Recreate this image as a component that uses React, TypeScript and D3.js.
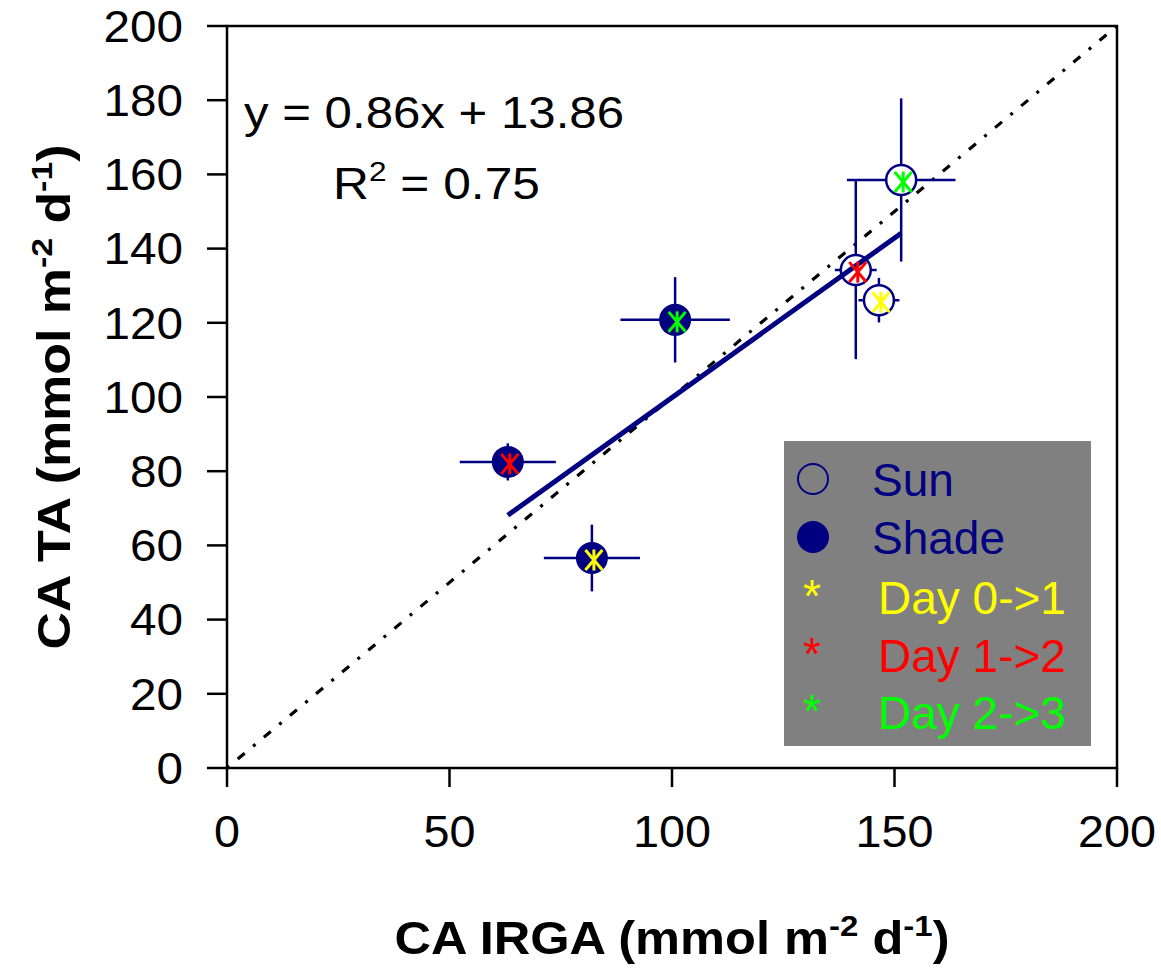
import React from "react";
import * as d3 from "d3";

// ---- data ----
const dayLabels = ["Day 0->1", "Day 1->2", "Day 2->3"];
const dayColors = ["#FFFF00", "#FF0000", "#00FF00"];

const sunX = [146.5, 141.3, 151.5];
const sunY = [126.1, 134.2, 158.5];
const sunXErr = [4.6, 4.7, 12.2];
const sunYErr = [6, 24, 22];

const shadeX = [82.0, 63.1, 100.7];
const shadeY = [56.6, 82.5, 120.8];
const shadeXErr = [10.8, 10.8, 12.3];
const shadeYErr = [9, 5, 11.5];

const fitSlope = 0.86;
const fitIntercept = 13.86;
const fitR2 = 0.75;

const xTicks = [0, 50, 100, 150, 200];
const yTicks = [0, 20, 40, 60, 80, 100, 120, 140, 160, 180, 200];

const NAVY = "#000080";
const FONT = "Arial, 'Liberation Sans', sans-serif";

export default function App() {
  const W = 1161, H = 969;
  const x = d3.scaleLinear().domain([0, 200]).range([227, 1117]);
  const y = d3.scaleLinear().domain([0, 200]).range([768, 26]);

  const points = [
    ...sunX.map((v, i) => ({ x: v, y: sunY[i], xe: sunXErr[i], ye: sunYErr[i], filled: false, day: i })),
    ...shadeX.map((v, i) => ({ x: v, y: shadeY[i], xe: shadeXErr[i], ye: shadeYErr[i], filled: true, day: i })),
  ];
  const allX = [...sunX, ...shadeX];
  const fx0 = d3.min(allX)!, fx1 = d3.max(allX)!;
  const line = d3.line<[number, number]>().x(d => x(d[0])).y(d => y(d[1]));
  const fitPath = line([[fx0, fitSlope * fx0 + fitIntercept], [fx1, fitSlope * fx1 + fitIntercept]]);
  const idPath = line([[0, 0], [200, 200]]);

  const asterisk = (cx: number, cy: number, color: string, key: string) => {
    const r = 10.5;
    const a = r * 0.95;
    return (
      <g key={key} stroke={color} strokeWidth={3} transform={`translate(${cx + 2},${cy + 2})`}>
        <line x1={0} y1={-r} x2={0} y2={r} />
        <line x1={-a * 0.85} y1={-a} x2={a * 0.85} y2={a} />
        <line x1={a * 0.85} y1={-a} x2={-a * 0.85} y2={a} />
      </g>
    );
  };

  const legendRows = [479, 537, 597, 655, 712];

  return (
    <svg width={W} height={H} style={{ position: "absolute", left: 0, top: 0, display: "block", background: "#fff" }} fontFamily={FONT}>
      {/* 1:1 line */}
      <path d={idPath!} stroke="#000" strokeWidth={3.2} fill="none" strokeDasharray="3,11,9,11" />

      {/* legend box */}
      <rect x={784} y={441} width={307} height={305} fill="#808080" />

      {/* error bars */}
      {points.map((p, i) => (
        <g key={"e" + i} stroke={NAVY} strokeWidth={2.5}>
          <line x1={x(p.x - p.xe)} x2={x(p.x + p.xe)} y1={y(p.y)} y2={y(p.y)} />
          <line x1={x(p.x)} x2={x(p.x)} y1={y(p.y - p.ye)} y2={y(p.y + p.ye)} />
        </g>
      ))}

      {/* markers */}
      {points.map((p, i) => (
        <circle key={"c" + i} cx={x(p.x)} cy={y(p.y)} r={p.filled ? 16 : 15}
          fill={p.filled ? NAVY : "#fff"} stroke={NAVY} strokeWidth={p.filled ? 0 : 2.5} />
      ))}

      {/* regression line */}
      <path d={fitPath!} stroke={NAVY} strokeWidth={5} fill="none" />

      {/* asterisks */}
      {points.map((p, i) => asterisk(x(p.x), y(p.y), dayColors[p.day], "a" + i))}

      {/* frame */}
      <rect x={227} y={26} width={890} height={742} fill="none" stroke="#000" strokeWidth={2.5} />

      {/* y axis ticks */}
      {yTicks.map(t => (
        <g key={"yt" + t}>
          <line x1={207} x2={227} y1={y(t)} y2={y(t)} stroke="#000" strokeWidth={2.5} />
          <text x={183} y={y(t)} dy="0.36em" textAnchor="end" fontSize={44}
            textLength={String(t).length * 26.5} lengthAdjust="spacingAndGlyphs">{t}</text>
        </g>
      ))}
      {/* x axis ticks */}
      {xTicks.map(t => (
        <g key={"xt" + t}>
          <line x1={x(t)} x2={x(t)} y1={768} y2={787} stroke="#000" strokeWidth={2.5} />
          <text x={x(t)} y={831} dy="0.36em" textAnchor="middle" fontSize={44}
            textLength={String(t).length * 26} lengthAdjust="spacingAndGlyphs">{t}</text>
        </g>
      ))}

      {/* axis titles */}
      <text x={672} y={954} textAnchor="middle" fontSize={46} fontWeight="bold"
        textLength={555} lengthAdjust="spacingAndGlyphs">
        CA IRGA (mmol m<tspan fontSize={30} dy={-18}>-2</tspan><tspan dy={18}> d</tspan><tspan fontSize={30} dy={-18}>-1</tspan><tspan dy={18}>)</tspan>
      </text>
      <text transform="translate(70,397) rotate(-90)" textAnchor="middle" fontSize={46} fontWeight="bold"
        textLength={505} lengthAdjust="spacingAndGlyphs">
        CA TA (mmol m<tspan fontSize={30} dy={-18}>-2</tspan><tspan dy={18}> d</tspan><tspan fontSize={30} dy={-18}>-1</tspan><tspan dy={18}>)</tspan>
      </text>

      {/* equation */}
      <text x={244} y={128} fontSize={44} textLength={380} lengthAdjust="spacingAndGlyphs">
        {`y = ${fitSlope.toFixed(2)}x + ${fitIntercept.toFixed(2)}`}
      </text>
      <text x={333} y={199} fontSize={44} textLength={207} lengthAdjust="spacingAndGlyphs">
        R<tspan fontSize={28} dy={-18}>2</tspan><tspan dy={18}> = {fitR2.toFixed(2)}</tspan>
      </text>

      {/* legend */}
      <circle cx={813} cy={legendRows[0]} r={15} fill="none" stroke={NAVY} strokeWidth={2} />
      <text x={872} y={legendRows[0]} dy="0.36em" fontSize={46} fill={NAVY}>Sun</text>
      <circle cx={813} cy={legendRows[1]} r={16} fill={NAVY} />
      <text x={872} y={legendRows[1]} dy="0.36em" fontSize={46} fill={NAVY}>Shade</text>
      {dayLabels.map((lab, i) => (
        <g key={"lg" + i}>
          <text x={812} y={legendRows[2 + i] + 15} textAnchor="middle" fontSize={46} fill={dayColors[i]}>*</text>
          <text x={878} y={legendRows[2 + i]} dy="0.36em" fontSize={46} fill={dayColors[i]}>{lab}</text>
        </g>
      ))}
    </svg>
  );
}
